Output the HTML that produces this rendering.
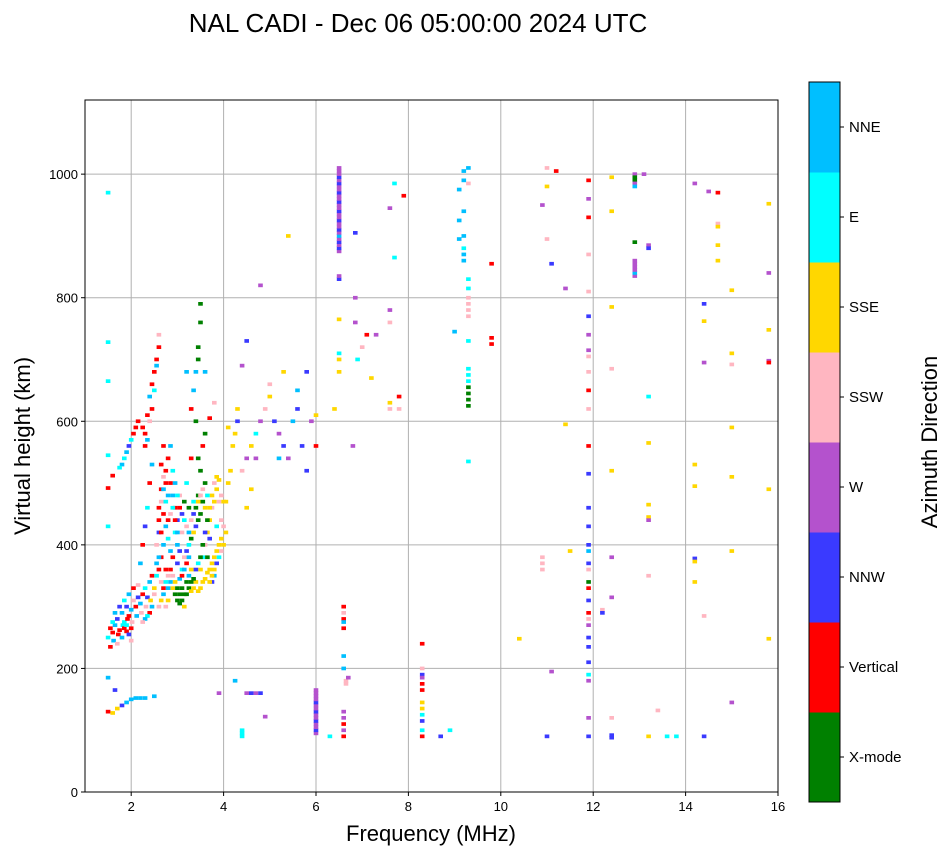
<!DOCTYPE html>
<html><head><meta charset="utf-8">
<style>
html,body{margin:0;padding:0;background:#fff;}
svg{display:block;font-family:"Liberation Sans",sans-serif;}
</style></head>
<body>
<svg id="chart" width="951" height="856" viewBox="0 0 951 856" xmlns="http://www.w3.org/2000/svg">
<text x="418" y="32" font-size="26" text-anchor="middle">NAL CADI - Dec 06 05:00:00 2024 UTC</text>
<g id="grid"></g>
<g id="marks"></g>
<rect x="85" y="100" width="693" height="692" fill="none" stroke="#000" stroke-width="1"/>
<g id="axes"></g>
<text x="431" y="841" font-size="22" text-anchor="middle">Frequency (MHz)</text>
<text transform="translate(30,446) rotate(-90)" font-size="22" text-anchor="middle">Virtual height (km)</text>
<g id="cbar"></g>
<text transform="translate(937,442) rotate(-90)" font-size="22" text-anchor="middle">Azimuth Direction</text>
</svg>
<script>
const xTicks=[2,4,6,8,10,12,14,16];
const yTicks=[0,200,400,600,800,1000];
const dirLabels=["X-mode","Vertical","NNW","W","SSW","SSE","E","NNE"];
const dirColors=["#008000","#ff0000","#3a3aff","#b452cd","#ffb6c1","#ffd700","#00ffff","#00bfff"];
// [freq MHz, height km, direction index]
const echoes=[
[1.5,250,6],[1.55,265,1],[1.6,258,1],[1.62,245,7],[1.65,270,7],[1.7,280,2],[1.72,255,1],[1.75,262,1],[1.8,290,7],[1.82,270,6],[1.85,275,6],[1.9,300,2],[1.92,280,1],[1.95,285,1],[2.0,295,7],[2.02,275,4],[2.05,310,4],[2.1,300,1],[2.12,285,7],[2.15,315,2],[2.2,305,7],[2.22,290,4],[2.25,320,1],[2.3,330,6],[2.32,300,4],[2.35,315,2],[2.4,340,7],[2.42,310,5],[2.45,350,1],[2.5,330,5],[2.55,370,7],[2.6,360,1],[2.65,340,4],[2.7,320,7],[2.75,300,4],[2.8,310,5],
[1.6,275,6],[1.65,290,7],[1.75,300,2],[1.85,310,6],[1.95,320,7],[2.05,330,1],[2.15,335,4],[1.55,235,1],[1.7,240,4],[1.9,260,1],[2.0,265,1],[1.5,130,1],[1.6,128,5],[1.7,135,5],[1.8,140,2],[1.9,145,7],[2.0,150,7],[2.1,152,7],[2.2,152,7],[2.3,152,7],[2.5,155,7],[1.5,185,7],[1.65,165,2],[1.5,430,6],[1.5,545,6],[1.5,665,6],[1.5,728,6],[1.5,970,6],[1.5,492,1],[1.6,512,1],
[2.2,370,7],[2.25,400,1],[2.3,430,2],[2.35,460,6],[2.4,500,1],[2.45,530,7],[2.3,560,1],[2.25,590,1],[2.35,610,1],[2.4,640,7],[2.45,660,1],[2.5,680,1],[2.55,700,1],[2.6,720,1],[2.6,740,4],[2.55,690,7],[2.5,650,6],[2.45,620,1],[2.4,600,4],[2.3,580,1],[2.35,570,7],
[1.8,530,7],[1.85,540,6],[1.9,550,7],[1.95,560,2],[2.0,570,6],[2.05,580,1],[2.1,590,1],[2.15,600,1],[1.75,525,6],
[2.65,530,1],[2.7,560,1],[2.75,500,1],[2.8,480,7],[2.7,450,1],[2.65,470,4],[2.6,440,1],[2.75,430,7],[2.8,410,6],[2.85,390,7],[2.9,380,1],[2.95,420,6],[3.0,400,7],[2.7,400,7],[2.65,380,1],[2.6,420,2],[2.75,360,1],[2.8,350,4],[2.85,340,7],[2.9,330,5],[2.95,320,0],[3.0,310,0],[3.05,305,0],[3.1,330,0],[3.15,320,0],[3.2,340,0],[3.25,350,7],[3.3,360,5],[3.05,345,7],[3.1,360,6],[3.0,370,2],[3.15,380,4],[3.2,390,2],[3.25,400,6],[3.3,410,0],[3.35,420,5],[3.4,430,2],[3.45,440,0],[3.5,450,0],[3.1,420,4],[3.0,440,2],[2.95,460,1],[2.9,480,7],[2.85,500,1],[3.05,480,4],[3.15,470,0],[3.25,460,0],[3.35,470,6],[3.45,480,0],[3.55,490,4],[3.6,500,0],[3.5,520,0],[3.45,540,0],[3.55,560,1],[3.6,580,0],[3.7,605,1],[3.4,600,0],[3.3,620,1],[3.35,650,7],[3.4,680,7],[3.45,700,0],[3.45,720,0],[3.5,760,0],[3.5,790,0],[3.3,540,1],[3.2,500,6],
[3.45,325,5],[3.5,330,5],[3.55,340,5],[3.6,345,5],[3.65,355,5],[3.7,360,5],[3.75,370,5],[3.8,380,5],[3.85,390,5],[3.9,400,5],[3.95,410,5],[3.5,360,5],[3.55,380,6],[3.6,400,4],[3.65,420,5],[3.7,440,5],[3.75,460,4],[3.8,470,5],[3.85,490,5],[3.9,505,5],[3.95,440,4],[4.0,430,4],[4.05,470,5],[4.1,500,5],[4.15,520,5],[4.2,560,5],[4.25,580,5],[4.3,620,5],[3.75,340,2],[3.8,350,7],[3.65,380,0],[3.7,410,2],[3.85,430,6],
[2.6,300,4],[2.65,310,5],[2.7,330,1],[2.75,340,6],[2.8,330,7],[2.85,360,1],[2.9,350,4],[2.95,340,5],[3.0,330,0],[3.05,320,0],[3.1,310,0],[3.15,300,5],[3.2,320,0],[3.25,330,0],[3.3,340,0],[3.35,330,5],[3.4,340,5],[3.3,325,5],[3.35,345,0],[3.4,360,2],[3.45,370,6],[3.5,380,0],[3.55,400,0],[3.6,420,2],[3.65,440,0],[3.7,460,5],[3.75,480,5],[3.8,500,4],[3.85,510,5],[3.9,470,4],[3.95,480,4],[4.0,470,5],[4.0,400,5],[4.05,420,5],[3.95,390,4],[3.9,380,6],[3.85,370,2],[3.8,360,5],[3.75,350,5],[3.7,340,5],
[2.55,400,4],[2.6,460,1],[2.65,490,1],[2.7,510,4],[2.75,520,1],[2.8,540,1],[2.85,560,7],[2.9,520,6],[2.95,500,7],[3.0,480,6],[3.05,460,1],[3.1,450,2],[3.15,440,6],[3.2,430,4],[3.25,420,7],[3.3,440,4],[3.35,450,2],[3.4,460,0],[3.45,470,5],[3.5,480,4],[3.55,470,0],[3.6,460,5],[3.65,480,6],[3.25,380,7],[3.2,370,1],[3.15,360,7],[3.1,350,1],[3.05,390,2],[3.0,420,7],[2.95,440,1],[2.9,460,6],[2.85,450,4],[2.8,440,1],[2.75,470,6],[2.7,490,7],[2.65,420,1],[2.6,380,7],[2.55,350,6],[2.5,320,4],[2.45,300,7],[2.4,290,1],[2.35,285,6],[2.3,280,7],[2.25,275,4],[1.8,250,7],[1.85,265,1],[1.9,270,6],[1.95,255,2],[2.0,245,4],
[4.4,520,4],[4.5,540,3],[4.6,560,5],[4.7,580,6],[4.8,600,3],[4.9,620,4],[5.0,640,5],[5.1,600,2],[5.2,580,3],[5.3,560,2],[5.4,540,3],[5.5,600,7],[5.6,620,2],[5.7,560,2],[5.8,520,2],[5.9,600,3],[6.0,560,1],[5.0,660,4],[5.2,540,7],[4.7,540,3],[4.4,690,3],[4.5,730,2],[4.8,820,3],[5.4,900,5],[4.6,490,5],[4.5,460,5],[5.8,680,2],[6.0,610,5],
[3.9,160,3],[4.25,180,7],[4.5,160,3],[4.6,160,2],[4.7,160,3],[4.8,160,2],[4.9,122,3],[4.4,95,6],[4.4,90,6],[4.4,100,6],
[6.0,95,3],[6.0,100,2],[6.0,105,3],[6.0,110,3],[6.0,115,2],[6.0,120,3],[6.0,125,3],[6.0,130,2],[6.0,135,3],[6.0,140,3],[6.0,145,2],[6.0,150,3],[6.0,155,3],[6.0,160,3],[6.0,165,3],[6.3,90,6],
[6.5,875,3],[6.5,880,2],[6.5,885,3],[6.5,890,2],[6.5,895,3],[6.5,900,7],[6.5,905,3],[6.5,910,2],[6.5,915,3],[6.5,920,3],[6.5,925,2],[6.5,930,3],[6.5,935,3],[6.5,940,2],[6.5,945,3],[6.5,950,3],[6.5,955,2],[6.5,960,3],[6.5,965,3],[6.5,970,2],[6.5,975,3],[6.5,980,3],[6.5,985,2],[6.5,990,3],[6.5,995,2],[6.5,1000,3],[6.5,1005,3],[6.5,1010,3],[6.5,830,2],[6.5,835,3],
[6.5,680,5],[6.5,700,5],[6.5,710,6],[6.5,765,5],[6.6,280,1],[6.6,290,4],[6.6,300,1],[6.6,275,7],[6.6,265,1],[6.6,220,7],[6.6,200,7],[6.6,130,3],[6.6,120,3],[6.6,110,1],[6.6,100,3],[6.6,90,1],[6.65,180,4],[6.65,175,4],[6.7,185,3],[6.8,560,3],[6.85,800,3],[6.85,905,2],[6.85,760,3],[6.9,700,6],[7.0,720,4],[7.1,740,1],[7.2,670,5],[7.3,740,3],[7.6,780,3],[7.6,760,4],[7.6,620,4],[7.6,630,5],[7.6,945,3],[7.7,985,6],[7.8,640,1],[7.8,620,4],[7.7,865,6],[7.9,965,1],
[8.3,240,1],[8.3,200,4],[8.3,190,2],[8.3,185,3],[8.3,175,1],[8.3,165,1],[8.3,145,5],[8.3,135,5],[8.3,125,6],[8.3,115,2],[8.3,100,6],[8.3,90,1],[8.7,90,2],[8.9,100,6],
[9.3,625,0],[9.3,635,0],[9.3,645,0],[9.3,655,0],[9.3,665,6],[9.3,675,6],[9.3,685,6],[9.3,535,6],[9.3,730,6],[9.3,770,4],[9.3,780,4],[9.3,790,4],[9.3,800,4],[9.3,815,6],[9.3,830,6],[9.2,860,7],[9.2,870,7],[9.2,880,6],[9.2,900,7],[9.2,940,7],[9.1,925,7],[9.1,895,7],[9.1,975,7],[9.2,1005,7],[9.3,1010,7],[9.3,985,4],[9.2,990,7],[9.0,745,7],[9.8,855,1],[9.8,735,1],[9.8,725,1],[10.4,248,5],
[10.9,380,4],[10.9,370,4],[10.9,360,4],[10.9,950,3],[11.0,980,5],[11.0,1010,4],[11.0,895,4],[11.0,90,2],[11.1,855,2],[11.1,195,3],[11.2,1005,1],[11.4,815,3],[11.4,595,5],[11.5,390,5],
[11.9,990,1],[11.9,960,3],[11.9,930,1],[11.9,870,4],[11.9,810,4],[11.9,770,2],[11.9,740,3],[11.9,715,3],[11.9,705,4],[11.9,680,4],[11.9,650,1],[11.9,620,4],[11.9,560,1],[11.9,515,2],[11.9,460,2],[11.9,430,2],[11.9,400,2],[11.9,390,7],[11.9,370,2],[11.9,360,4],[11.9,340,0],[11.9,330,1],[11.9,310,2],[11.9,290,1],[11.9,280,4],[11.9,270,3],[11.9,250,2],[11.9,235,2],[11.9,210,2],[11.9,190,6],[11.9,180,3],[11.9,120,3],[11.9,90,2],[12.2,295,4],[12.2,290,2],
[12.4,995,5],[12.4,940,5],[12.4,785,5],[12.4,685,4],[12.4,520,5],[12.4,380,3],[12.4,315,3],[12.4,120,4],[12.4,92,2],[12.4,88,2],
[12.9,1000,3],[12.9,995,0],[12.9,990,0],[12.9,985,3],[12.9,980,7],[12.9,890,0],[12.9,835,3],[12.9,840,7],[12.9,845,3],[12.9,850,3],[12.9,855,3],[12.9,860,3],[13.2,885,3],[13.2,880,2],[13.1,1000,3],[13.2,640,6],[13.2,565,5],[13.2,465,5],[13.2,445,5],[13.2,440,3],[13.2,350,4],[13.2,90,5],[13.4,132,4],[13.6,90,6],[13.8,90,6],
[14.2,985,3],[14.2,530,5],[14.2,495,5],[14.2,378,2],[14.2,373,5],[14.2,340,5],[14.4,790,2],[14.4,762,5],[14.4,695,3],[14.4,285,4],[14.4,90,2],[14.5,972,3],[14.7,970,1],[14.7,920,4],[14.7,915,5],[14.7,885,5],[14.7,860,5],[15.0,812,5],[15.0,710,5],[15.0,692,4],[15.0,590,5],[15.0,510,5],[15.0,390,5],[15.0,145,3],[15.8,952,5],[15.8,840,3],[15.8,748,5],[15.8,698,3],[15.8,695,1],[15.8,490,5],[15.8,248,5],[4.1,590,5],[4.3,600,2],[5.3,680,5],[5.6,650,7],[6.4,620,5],[3.8,630,4],[3.6,680,7],[3.2,680,7]
];
const NS="http://www.w3.org/2000/svg";
const X0=85,X1=778,Y0=792,Y1=100,FMIN=1,FMAX=16,HMIN=0,HMAX=1120;
const xs=f=>X0+(f-FMIN)/(FMAX-FMIN)*(X1-X0);
const ys=h=>Y0-(h-HMIN)/(HMAX-HMIN)*(Y0-Y1);
function mk(tag,attrs,parent){const e=document.createElementNS(NS,tag);for(const k in attrs)e.setAttribute(k,attrs[k]);parent.appendChild(e);return e;}
const grid=document.getElementById('grid'),axes=document.getElementById('axes'),marks=document.getElementById('marks'),cbar=document.getElementById('cbar');
xTicks.forEach(t=>{const x=xs(t);
 const g=mk('line',{x1:x,x2:x,y1:Y1,y2:Y0,stroke:'#b0b0b0','stroke-width':1},grid);
 
 
 mk('line',{x1:x,x2:x,y1:Y0,y2:Y0+4,stroke:'#000'},axes);
 const tx=mk('text',{x:x,y:Y0+19,'font-size':13,'text-anchor':'middle'},axes);tx.textContent=t;
 
 
});
yTicks.forEach(t=>{const y=ys(t);
 const g=mk('line',{x1:X0,x2:X1,y1:y,y2:y,stroke:'#b0b0b0','stroke-width':1},grid);
 
 
 mk('line',{x1:X0-4,x2:X0,y1:y,y2:y,stroke:'#000'},axes);
 const tx=mk('text',{x:X0-7,y:y+5,'font-size':13,'text-anchor':'end'},axes);tx.textContent=t;
 
 
});
const mw=0.1*(X1-X0)/(FMAX-FMIN), mh=6*(Y0-Y1)/(HMAX-HMIN);
echoes.forEach(p=>{const r=mk('rect',{x:(xs(p[0])-mw/2).toFixed(1),y:(ys(p[1])-mh/2).toFixed(1),width:mw.toFixed(1),height:mh.toFixed(1),fill:dirColors[p[2]]},marks);
 
 
});
const CX=809,CW=31,CT=82,CB=802,bh=(CB-CT)/dirLabels.length;
dirLabels.forEach((lab,i)=>{const y=CB-(i+1)*bh;
 const r=mk('rect',{x:CX,y:y,width:CW,height:bh+0.5,fill:dirColors[i]},cbar);
 
 
 mk('line',{x1:CX+CW,x2:CX+CW+4,y1:y+bh/2,y2:y+bh/2,stroke:'#000'},cbar);
 const t=mk('text',{x:CX+CW+9,y:y+bh/2+5,'font-size':15},cbar);t.textContent=lab;
 
 
});
mk('rect',{x:CX,y:CT,width:CW,height:CB-CT,fill:'none',stroke:'#000'},cbar);
</script>
</body></html>
